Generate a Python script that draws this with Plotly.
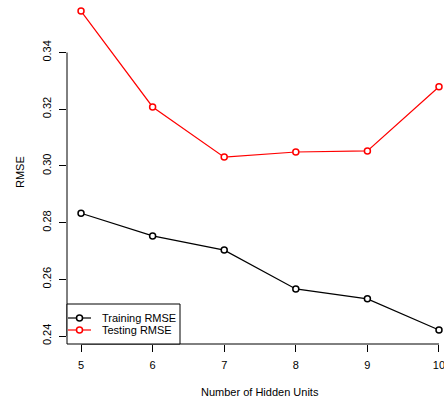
import plotly.graph_objects as go

# Number of hidden units tried and the resulting errors
hidden_units = [5, 6, 7, 8, 9, 10]
training_rmse = [0.2833, 0.2753, 0.2703, 0.2566, 0.2531, 0.2421]
testing_rmse = [0.3546, 0.3208, 0.3031, 0.3049, 0.3053, 0.3279]

series_names = ["Training RMSE", "Testing RMSE"]
series_colors = ["black", "red"]

y_ticks = [0.24, 0.26, 0.28, 0.30, 0.32, 0.34]
x_ticks = [5, 6, 7, 8, 9, 10]

FONT = "Liberation Sans, Arial, sans-serif"

W, H = 444, 405
ml, mb = 67, 61
pw, ph = W - ml, H - mb
X_RANGE = [4.804, 10.07]
Y_RANGE = [0.23718, 0.35852]


def px(xp):
    """Horizontal pixel -> paper fraction."""
    return (xp - ml) / pw


def py(yp):
    """Vertical pixel (from top) -> paper fraction."""
    return (ph - yp) / ph


def dx(v):
    return (v - X_RANGE[0]) / (X_RANGE[1] - X_RANGE[0])


def dy(v):
    return (v - Y_RANGE[0]) / (Y_RANGE[1] - Y_RANGE[0])


fig = go.Figure()

for values, name, color in zip([training_rmse, testing_rmse], series_names, series_colors):
    fig.add_trace(go.Scatter(
        x=hidden_units, y=values, name=name, mode="lines+markers",
        line=dict(color=color, width=1.2),
        marker=dict(symbol="circle", size=6, color="white",
                    line=dict(color=color, width=1.5)),
        showlegend=False,
    ))

shapes = [
    # axis lines spanning only the tick range
    dict(type="line", xref="paper", yref="paper",
         x0=dx(x_ticks[0]), x1=dx(x_ticks[-1]), y0=0, y1=0,
         line=dict(color="black", width=1)),
    dict(type="line", xref="paper", yref="paper",
         x0=0, x1=0, y0=dy(y_ticks[0]), y1=dy(y_ticks[-1]),
         line=dict(color="black", width=1)),
    # legend frame
    dict(type="rect", xref="paper", yref="paper",
         x0=0, x1=px(180), y0=0, y1=py(304),
         fillcolor="white", line=dict(color="black", width=1), layer="above"),
]
annotations = []

for i, (name, color) in enumerate(zip(series_names, series_colors)):
    ypix = 318 + i * 12
    shapes.append(dict(type="line", xref="paper", yref="paper",
                       x0=px(68), x1=px(91), y0=py(ypix), y1=py(ypix),
                       line=dict(color=color, width=1.2), layer="above"))
    shapes.append(dict(type="circle", xref="paper", yref="paper",
                       xsizemode="pixel", ysizemode="pixel",
                       xanchor=px(79.5), yanchor=py(ypix),
                       x0=-3, x1=3, y0=-3, y1=3,
                       fillcolor="white", line=dict(color=color, width=1.5),
                       layer="above"))
    annotations.append(dict(text=name, xref="paper", yref="paper",
                            x=px(100), y=py(ypix), xanchor="left", yanchor="middle",
                            showarrow=False, font=dict(size=11)))

annotations += [
    dict(text="Number of Hidden Units", xref="paper", yref="paper",
         x=px(260), y=py(392), xanchor="center", yanchor="middle",
         showarrow=False, font=dict(size=11)),
    dict(text="RMSE", xref="paper", yref="paper",
         x=px(20), y=py(172), textangle=-90,
         xanchor="center", yanchor="middle", showarrow=False,
         font=dict(size=11)),
]

fig.update_layout(
    width=W, height=H,
    margin=dict(l=ml, r=0, t=0, b=mb),
    paper_bgcolor="white", plot_bgcolor="white",
    font=dict(family=FONT, size=11, color="black"),
    showlegend=False,
    xaxis=dict(
        range=X_RANGE, tickvals=x_ticks,
        showgrid=False, zeroline=False, showline=False,
        ticks="outside", ticklen=7, tickcolor="black", tickwidth=1,
        ticklabelstandoff=4, ticklabeloverflow="allow",
    ),
    yaxis=dict(
        range=Y_RANGE, tickvals=y_ticks,
        tickformat=".2f", tickangle=-90,
        showgrid=False, zeroline=False, showline=False,
        ticks="outside", ticklen=7, tickcolor="black", tickwidth=1,
        ticklabelstandoff=4,
    ),
    shapes=shapes,
    annotations=annotations,
)

fig.write_html("out.html")
